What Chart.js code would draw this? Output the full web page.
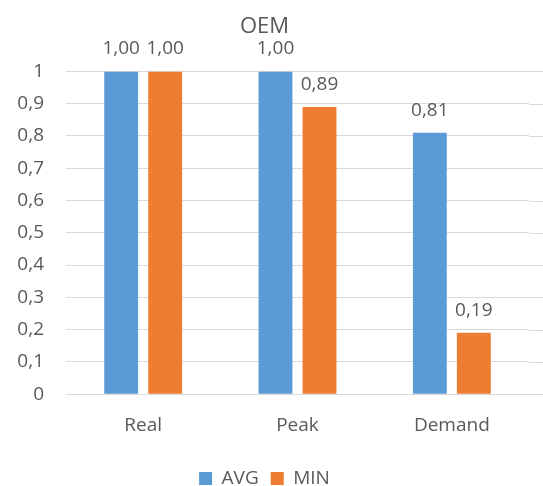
<!DOCTYPE html>
<html>
<head>
<meta charset="utf-8">
<script src="https://cdn.jsdelivr.net/npm/chart.js@4"></script>
<style>
  body { margin: 0; background: #fff; }
  canvas { display: block; }
</style>
</head>
<body>
<canvas id="chart" width="543" height="486"></canvas>
<script>
const categories = ["Real", "Peak", "Demand"];
const avgValues = [1.00, 1.00, 0.81];
const minValues = [1.00, 0.89, 0.19];
const yTicks = [0, 0.1, 0.2, 0.3, 0.4, 0.5, 0.6, 0.7, 0.8, 0.9, 1];

const TEXT = "#595959";
const GRID = "#D9D9D9";
const FONT = "'Open Sans', sans-serif";

const toComma = (v, digits) => v.toFixed(digits).replace(".", ",");

// value labels above each bar
const barLabels = {
  id: "barLabels",
  afterDatasetsDraw(chart) {
    const ctx = chart.ctx;
    ctx.save();
    ctx.font = "19px " + FONT;
    ctx.fillStyle = TEXT;
    ctx.textAlign = "center";
    ctx.textBaseline = "bottom";
    chart.data.datasets.forEach((ds, i) => {
      chart.getDatasetMeta(i).data.forEach((bar, j) => {
        ctx.fillText(toComma(ds.data[j], 2), bar.x, bar.y - 13);
      });
    });
    ctx.restore();
  }
};

// gridlines in the original run out to the right edge of the picture
const gridToEdge = {
  id: "gridToEdge",
  beforeDatasetsDraw(chart) {
    const ctx = chart.ctx;
    const y = chart.scales.y;
    ctx.save();
    ctx.strokeStyle = GRID;
    ctx.lineWidth = 1;
    yTicks.forEach(v => {
      const py = Math.round(y.getPixelForValue(v)) + 0.5;
      ctx.beginPath();
      ctx.moveTo(chart.chartArea.right, py);
      ctx.lineTo(chart.width, py);
      ctx.stroke();
    });
    ctx.restore();
  }
};

new Chart(document.getElementById("chart"), {
  type: "bar",
  data: {
    labels: categories,
    datasets: [
      {
        label: "AVG",
        data: avgValues,
        backgroundColor: "#5B9BD5",
        categoryPercentage: 0.57,
        barPercentage: 0.77
      },
      {
        label: "MIN",
        data: minValues,
        backgroundColor: "#ED7D31",
        categoryPercentage: 0.57,
        barPercentage: 0.77
      }
    ]
  },
  options: {
    responsive: false,
    animation: false,
    layout: { padding: { left: 0, right: 14, top: 0, bottom: -12 } },
    plugins: {
      title: {
        display: true,
        text: "OEM",
        color: TEXT,
        font: { family: FONT, size: 22, weight: "normal" },
        padding: { top: 14, bottom: 31 }
      },
      legend: {
        position: "bottom",
        labels: {
          color: TEXT,
          font: { family: FONT, size: 19 },
          boxWidth: 13,
          boxHeight: 13,
          padding: 12
        }
      },
      tooltip: { enabled: false }
    },
    scales: {
      x: {
        grid: { display: false, drawTicks: false },
        border: { color: GRID, width: 1 },
        ticks: { color: TEXT, font: { family: FONT, size: 19 }, padding: 20 }
      },
      y: {
        min: 0,
        max: 1,
        afterFit(scale) { scale.width = 66; },
        afterBuildTicks(scale) { scale.ticks = yTicks.map(v => ({ value: v })); },
        grid: { color: GRID, drawTicks: false },
        border: { display: false },
        ticks: {
          color: TEXT,
          font: { family: FONT, size: 19 },
          padding: 22,
          callback: v => toComma(Math.round(v * 10) / 10, v === 0 || v === 1 ? 0 : 1)
        }
      }
    }
  },
  plugins: [barLabels, gridToEdge]
});
</script>
</body>
</html>
